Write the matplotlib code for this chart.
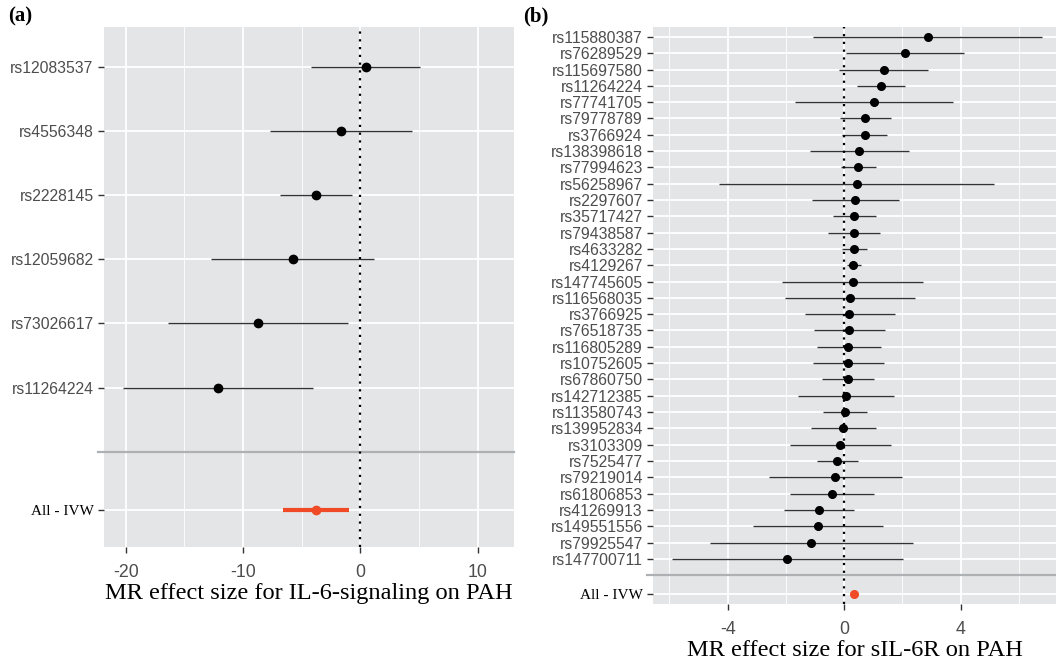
import numpy as np
import matplotlib.pyplot as plt
from matplotlib.ticker import MultipleLocator

plt.rcParams["axes.unicode_minus"] = False

# panel (a): IL-6-signaling instruments
snps_a = ["rs12083537", "rs4556348", "rs2228145", "rs12059682", "rs73026617", "rs11264224"]
beta_a = [0.46, -1.67, -3.78, -5.77, -8.70, -12.16]
lo_a = [-4.23, -7.73, -6.82, -12.73, -16.37, -20.20]
hi_a = [5.09, 4.41, -0.74, 1.17, -1.02, -4.06]
ivw_a = (-3.78, -6.62, -0.94)

# panel (b): sIL-6R instruments
snps_b = ["rs115880387", "rs76289529", "rs115697580", "rs11264224", "rs77741705",
          "rs79778789", "rs3766924", "rs138398618", "rs77994623", "rs56258967",
          "rs2297607", "rs35717427", "rs79438587", "rs4633282", "rs4129267",
          "rs147745605", "rs116568035", "rs3766925", "rs76518735", "rs116805289",
          "rs10752605", "rs67860750", "rs142712385", "rs113580743", "rs139952834",
          "rs3103309", "rs7525477", "rs79219014", "rs61806853", "rs41269913",
          "rs149551556", "rs79925547", "rs147700711"]
beta_b = [2.86, 2.10, 1.35, 1.26, 1.02, 0.73, 0.70, 0.52, 0.49, 0.45,
          0.38, 0.35, 0.33, 0.33, 0.31, 0.29, 0.19, 0.17, 0.17, 0.14,
          0.14, 0.14, 0.06, 0.03, -0.05, -0.14, -0.24, -0.30, -0.41, -0.86,
          -0.91, -1.13, -1.97]
lo_b = [-1.06, 0.07, -0.19, 0.45, -1.69, -0.16, -0.09, -1.17, -0.12, -4.29,
        -1.11, -0.39, -0.56, -0.09, 0.10, -2.12, -2.04, -1.36, -1.03, -0.94,
        -1.06, -0.76, -1.59, -0.71, -1.13, -1.87, -0.94, -2.58, -1.87, -2.08,
        -3.13, -4.62, -5.90]
hi_b = [6.79, 4.12, 2.87, 2.08, 3.72, 1.60, 1.47, 2.22, 1.08, 5.14,
        1.88, 1.09, 1.22, 0.78, 0.56, 2.69, 2.43, 1.73, 1.39, 1.25,
        1.36, 1.01, 1.71, 0.79, 1.08, 1.60, 0.49, 1.99, 1.04, 0.35,
        1.33, 2.35, 2.01]
ivw_b = (0.32, 0.24, 0.40)

BG = "#E3E5E7"
RED = "#F04A26"
TXT = "#4D4D4D"
SERIF = "Liberation Serif"
SANS = "Liberation Sans"


def forest(ax, snps, beta, lo, hi, ivw, ivw_off, bottom_pad, xlim, major, minor,
           ms, ivw_lw, xlabel):
    n = len(snps)
    y = np.arange(n)
    y_ivw = n + ivw_off
    ax.set_facecolor(BG)
    for s in ax.spines.values():
        s.set_visible(False)
    ax.xaxis.set_major_locator(MultipleLocator(major))
    ax.xaxis.set_minor_locator(MultipleLocator(minor))
    ax.grid(which="major", axis="both", color="white", lw=1.3, zorder=0)
    ax.grid(which="minor", axis="x", color="white", lw=0.6, zorder=0)
    ax.set_axisbelow(True)

    ax.hlines(y, lo, hi, color="#333333", lw=1.0, zorder=2)
    ax.plot(beta, y, "o", color="black", ms=ms, zorder=3)
    ax.hlines(y_ivw, ivw[1], ivw[2], color=RED, lw=ivw_lw, zorder=2)
    ax.plot(ivw[0], y_ivw, "o", color=RED, ms=ms, zorder=3)

    ax.axvline(0, color="black", ls=(0, (1, 2.5)), lw=1.6, zorder=4)
    ax.set_xlim(*xlim)
    ax.set_ylim(n + bottom_pad, -0.63)
    # separator between the SNP rows and the pooled estimate
    ax.plot([-0.015, 1], [n, n], transform=ax.get_yaxis_transform(),
            color="#AEB1B3", lw=1.6, clip_on=False, zorder=1)

    ax.set_yticks(list(y) + [y_ivw])
    ax.set_yticklabels(snps + ["All - IVW"])
    for lab in ax.get_yticklabels():
        lab.set_fontfamily(SANS)
        lab.set_fontsize(11.3)
        lab.set_color(TXT)
    last = ax.get_yticklabels()[-1]
    last.set_fontfamily(SERIF)
    last.set_fontsize(11)
    last.set_color("black")
    ax.tick_params(axis="both", which="major", length=4, color="#333333", width=1)
    ax.tick_params(axis="x", which="minor", length=0)
    ax.tick_params(axis="x", labelsize=12.8, labelcolor=TXT, pad=8.5)
    for lab in ax.get_xticklabels():
        lab.set_fontfamily(SANS)
    ax.set_xlabel(xlabel, fontfamily=SERIF, fontsize=17.6, labelpad=1)


fig = plt.figure(figsize=(10.56, 6.63), dpi=100)
ax_a = fig.add_axes([0.0985, 0.175, 0.3883, 0.7843])
ax_b = fig.add_axes([0.6187, 0.089, 0.3813, 0.8708])

forest(ax_a, snps_a, beta_a, lo_a, hi_a, ivw_a, 0.92, 1.49, (-21.85, 13.1), 10, 5,
       6, 3, "MR effect size for IL-6-signaling on PAH")
forest(ax_b, snps_b, beta_b, lo_b, hi_b, ivw_b, 1.17, 1.77, (-6.55, 7.27), 4, 2,
       5.5, 2.5, "MR effect size for sIL-6R on PAH")

fig.text(0.008, 0.99, "(a)", fontfamily=SERIF, fontweight="bold", fontsize=15, va="top")
fig.text(0.495, 0.99, "(b)", fontfamily=SERIF, fontweight="bold", fontsize=15, va="top")

fig.savefig("out.png", dpi=100)
